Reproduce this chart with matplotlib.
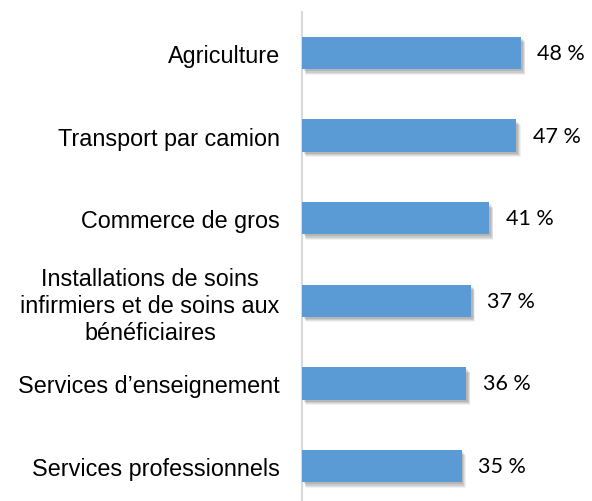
import matplotlib
matplotlib.use("Agg")
import matplotlib.pyplot as plt
import matplotlib.patheffects as pe

categories = [
    "Agriculture",
    "Transport par camion",
    "Commerce de gros",
    "Installations de soins\ninfirmiers et de soins aux\nbénéficiaires",
    "Services d\u2019enseignement",
    "Services professionnels",
]
values = [48, 47, 41, 37, 36, 35]
value_labels = ["48 %", "47 %", "41 %", "37 %", "36 %", "35 %"]

fig = plt.figure(figsize=(5.92, 5.02), dpi=100)
ax = fig.add_axes([302 / 592, -0.0126, 0.4625, 0.9873])

bar_color = "#5B9BD5"
pos = list(range(len(categories)))
shadow = [
    pe.SimplePatchShadow(offset=(3.0, -4.0), shadow_rgbFace="#000000", alpha=0.05),
    pe.SimplePatchShadow(offset=(2.5, -3.2), shadow_rgbFace="#000000", alpha=0.07),
    pe.SimplePatchShadow(offset=(2.0, -2.5), shadow_rgbFace="#000000", alpha=0.09),
    pe.SimplePatchShadow(offset=(1.2, -1.5), shadow_rgbFace="#000000", alpha=0.10),
    pe.Normal(),
]
bars = ax.barh(pos, values, height=0.39, color=bar_color, zorder=3)
for b in bars:
    b.set_path_effects(shadow)

for p, v, lab in zip(pos, values, value_labels):
    ax.text(v + 3.6, p, lab, va="center", ha="left", fontsize=15.5,
            family=["Lato", "DejaVu Sans"], color="#000000")

ax.set_xlim(0, 60)
ax.set_ylim(5.5, -0.5)
ax.set_yticks(pos)
ax.set_yticklabels(categories, fontsize=16.8, family=["Liberation Sans", "DejaVu Sans"],
                   color="#000000", multialignment="center", linespacing=1.22)
ax.tick_params(axis="y", length=0, pad=16)
ax.set_xticks([])
for s in ["top", "right", "bottom"]:
    ax.spines[s].set_visible(False)
ax.spines["left"].set_color("#D9D9D9")
ax.spines["left"].set_linewidth(1.5)
ax.set_facecolor("none")

fig.savefig("out.png", dpi=100, facecolor="white")
